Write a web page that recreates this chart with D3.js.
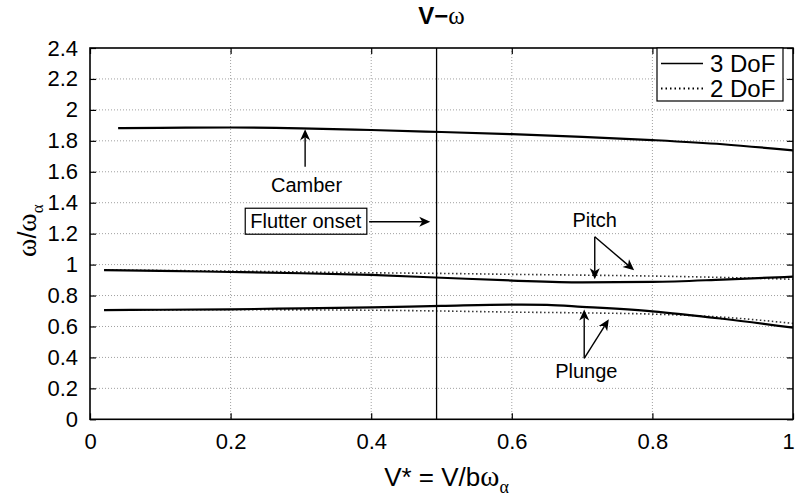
<!DOCTYPE html>
<html><head><meta charset="utf-8">
<script src="https://cdn.jsdelivr.net/npm/d3@7"></script>
<style>
body{margin:0;background:#fff;}
svg{display:block;font-family:"Liberation Sans",Arial,sans-serif;}
</style></head>
<body><svg id="c" width="796" height="500"></svg>
<script>
// ---- data ----
const xTicks = [0, 0.2, 0.4, 0.6, 0.8, 1];
const yTicks = [0, 0.2, 0.4, 0.6, 0.8, 1, 1.2, 1.4, 1.6, 1.8, 2, 2.2, 2.4];
const xTickLabels = ["0", "0.2", "0.4", "0.6", "0.8", "1"];
const yTickLabels = ["0", "0.2", "0.4", "0.6", "0.8", "1", "1.2", "1.4", "1.6", "1.8", "2", "2.2", "2.4"];

const camberV3 = [0.04, 0.1, 0.2, 0.3, 0.4, 0.5, 0.6, 0.7, 0.8, 0.9, 1.0];
const camber3  = [1.882, 1.884, 1.886, 1.881, 1.87, 1.857, 1.843, 1.826, 1.805, 1.778, 1.738];

const pitchV3 = [0.02, 0.1, 0.2, 0.3, 0.4, 0.5, 0.6, 0.7, 0.8, 0.9, 1.0];
const pitch3  = [0.964, 0.96, 0.952, 0.944, 0.933, 0.915, 0.897, 0.885, 0.888, 0.903, 0.922];
const pitchV2 = [0.02, 0.2, 0.4, 0.5, 0.6, 0.7, 0.8, 0.9, 1.0];
const pitch2  = [0.965, 0.958, 0.947, 0.943, 0.937, 0.932, 0.926, 0.917, 0.905];

const plungeV3 = [0.02, 0.1, 0.2, 0.3, 0.4, 0.5, 0.6, 0.65, 0.7, 0.8, 0.9, 1.0];
const plunge3  = [0.706, 0.708, 0.711, 0.717, 0.724, 0.733, 0.741, 0.739, 0.727, 0.698, 0.65, 0.593];
const plungeV2 = [0.02, 0.2, 0.4, 0.5, 0.6, 0.7, 0.8, 0.9, 1.0];
const plunge2  = [0.706, 0.708, 0.705, 0.70, 0.693, 0.688, 0.68, 0.66, 0.62];

const flutterV = 0.493;

const legendLabels = ["3 DoF", "2 DoF"];

// ---- layout ----
const L = 90, R = 793, T = 48, B = 419.3;
const svg = d3.select("#c");
const x = d3.scaleLinear().domain([0, 1]).range([L, R]);
const y = d3.scaleLinear().domain([0, 2.4]).range([B, T]);
const serif = "'Liberation Serif','Times New Roman',serif";

// grid
const g = svg.append("g");
g.selectAll(".gx").data(xTicks.slice(1, -1)).enter().append("line")
  .attr("x1", d => x(d)).attr("x2", d => x(d)).attr("y1", T).attr("y2", B)
  .attr("stroke", "#a0a0a0").attr("stroke-width", 1).attr("stroke-dasharray", "1,2");
g.selectAll(".gy").data(yTicks.slice(1, -1)).enter().append("line")
  .attr("y1", d => y(d)).attr("y2", d => y(d)).attr("x1", L).attr("x2", R)
  .attr("stroke", "#a0a0a0").attr("stroke-width", 1).attr("stroke-dasharray", "1,2");

// axes with inward ticks
const tl = 6;
const axB = d3.axisBottom(x).tickValues(xTicks).tickSizeInner(-tl).tickSizeOuter(0)
  .tickFormat((d, i) => xTickLabels[i]).tickPadding(14);
const axT = d3.axisTop(x).tickValues(xTicks).tickSizeInner(-tl).tickSizeOuter(0).tickFormat("");
const axL = d3.axisLeft(y).tickValues(yTicks).tickSizeInner(-tl).tickSizeOuter(0)
  .tickFormat((d, i) => yTickLabels[i]).tickPadding(12);
const axR = d3.axisRight(y).tickValues(yTicks).tickSizeInner(-tl).tickSizeOuter(0).tickFormat("");
function style(sel) {
  sel.select(".domain").remove();
  sel.selectAll("line").attr("stroke", "#000").attr("stroke-width", 1.2);
  sel.selectAll("text").attr("fill", "#000").attr("font-size", 22)
     .attr("font-family", "'Liberation Sans',Arial,sans-serif");
}
const gxB = svg.append("g").attr("transform", `translate(0,${B})`).call(axB).call(style);
gxB.selectAll("text").filter((d, i) => i === xTicks.length - 1).attr("dx", -5);
svg.append("g").attr("transform", `translate(0,${T})`).call(axT).call(style);
svg.append("g").attr("transform", `translate(${L},0)`).call(axL).call(style);
svg.append("g").attr("transform", `translate(${R},0)`).call(axR).call(style);

// curves
const line = d3.line().x(d => x(d[0])).y(d => y(d[1])).curve(d3.curveMonotoneX);
function zip(a, b) { return a.map((v, i) => [v, b[i]]); }
const dotted = [zip(pitchV2, pitch2), zip(plungeV2, plunge2)];
const solid = [zip(camberV3, camber3), zip(pitchV3, pitch3), zip(plungeV3, plunge3)];
svg.selectAll(".d2").data(dotted).enter().append("path")
  .attr("d", line).attr("fill", "none").attr("stroke", "#333").attr("stroke-width", 1.6)
  .attr("stroke-dasharray", "1.5,2.5");
svg.selectAll(".d3").data(solid).enter().append("path")
  .attr("d", line).attr("fill", "none").attr("stroke", "#000").attr("stroke-width", 2.2);

// flutter onset line
svg.append("line").attr("x1", x(flutterV)).attr("x2", x(flutterV)).attr("y1", T).attr("y2", B)
  .attr("stroke", "#000").attr("stroke-width", 1.3);

// box
svg.append("rect").attr("x", L).attr("y", T).attr("width", R - L).attr("height", B - T)
  .attr("fill", "none").attr("stroke", "#000").attr("stroke-width", 1.6);

// arrows (data coords)
function arrow(x0, y0, x1, y1) {
  const X0 = x(x0), Y0 = y(y0), X1 = x(x1), Y1 = y(y1);
  const ang = Math.atan2(Y1 - Y0, X1 - X0);
  const len = 11, wid = 5, back = 8;
  const ca = Math.cos(ang), sa = Math.sin(ang);
  const bx = X1 - len * ca, by = Y1 - len * sa;
  const cx = X1 - back * ca, cy = Y1 - back * sa;
  svg.append("line").attr("x1", X0).attr("y1", Y0).attr("x2", cx).attr("y2", cy)
    .attr("stroke", "#000").attr("stroke-width", 1.4);
  const p = [[X1, Y1], [bx - wid * sa, by + wid * ca], [cx, cy], [bx + wid * sa, by - wid * ca]];
  svg.append("path").attr("d", "M" + p.map(q => q.join(",")).join("L") + "Z").attr("fill", "#000");
}
function label(txt, xv, yv, anchor) {
  return svg.append("text").attr("x", x(xv)).attr("y", y(yv)).attr("text-anchor", anchor || "middle")
    .attr("font-size", 20).attr("fill", "#000").text(txt);
}
// Camber
arrow(0.306, 1.633, 0.306, 1.875);
label("Camber", 0.308, 1.47);
// Flutter onset
const ft = label("Flutter onset", 0.307, 1.235);
const bb = ft.node().getBBox();
svg.append("rect").attr("x", bb.x - 5).attr("y", bb.y - 2).attr("width", bb.width + 10).attr("height", bb.height + 4)
  .attr("fill", "none").attr("stroke", "#000").attr("stroke-width", 1.2);
arrow(0.397, 1.277, 0.484, 1.277);
// Pitch
label("Pitch", 0.718, 1.245);
arrow(0.718, 1.18, 0.718, 0.905);
arrow(0.718, 1.18, 0.774, 0.963);
// Plunge
label("Plunge", 0.706, 0.27);
arrow(0.703, 0.394, 0.703, 0.71);
arrow(0.703, 0.394, 0.738, 0.646);

// legend
const lg = svg.append("g");
const lx0 = 657, ly0 = T, lw = 126, lh = 53;
lg.append("rect").attr("x", lx0).attr("y", ly0).attr("width", lw).attr("height", lh)
  .attr("fill", "#fff").attr("stroke", "#000").attr("stroke-width", 1.2);
legendLabels.forEach((t, i) => {
  const cy = ly0 + 15.5 + i * 25;
  lg.append("line").attr("x1", lx0 + 4).attr("x2", lx0 + 46).attr("y1", cy).attr("y2", cy)
    .attr("stroke", "#000").attr("stroke-width", i === 0 ? 1.4 : 1.8)
    .attr("stroke-dasharray", i === 0 ? null : "1.5,3");
  lg.append("text").attr("x", lx0 + 53).attr("y", cy + 8.5).attr("font-size", 24).attr("fill", "#000").text(t);
});

// title
const title = svg.append("text").attr("x", (L + R) / 2).attr("y", 24).attr("text-anchor", "middle")
  .attr("font-size", 24).attr("fill", "#000");
title.append("tspan").attr("font-weight", "bold").text("V\u2212");
title.append("tspan").attr("font-family", serif).attr("font-size", 25).text("\u03c9");

// x label
const xl = svg.append("text").attr("x", (L + R) / 2 + 5).attr("y", 486).attr("text-anchor", "middle")
  .attr("font-size", 26).attr("fill", "#000");
xl.append("tspan").text("V* = V/b");
xl.append("tspan").attr("font-family", serif).attr("font-size", 29).text("\u03c9");
xl.append("tspan").attr("font-family", serif).attr("font-size", 18).attr("dy", 7).text("\u03b1");

// y label
const yl = svg.append("text").attr("transform", `translate(36,${(T + B) / 2 - 3}) rotate(-90)`)
  .attr("text-anchor", "middle").attr("font-size", 25).attr("fill", "#000");
yl.append("tspan").attr("font-family", serif).attr("font-size", 28).text("\u03c9");
yl.append("tspan").text("/");
yl.append("tspan").attr("font-family", serif).attr("font-size", 28).text("\u03c9");
yl.append("tspan").attr("font-family", serif).attr("font-size", 17).attr("dy", 7).text("\u03b1");
</script></body></html>
